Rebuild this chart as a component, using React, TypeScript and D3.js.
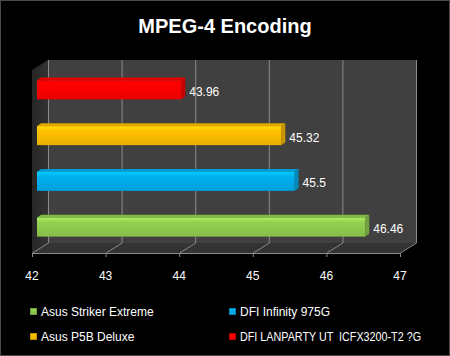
import React from "react";
import * as d3 from "d3";

const categories = ["DFI LANPARTY UT  ICFX3200-T2 ?G", "Asus P5B Deluxe", "DFI Infinity 975G", "Asus Striker Extreme"];
const values = [43.96, 45.32, 45.5, 46.46];
const colors = ["#ff0000", "#ffc000", "#00b0f0", "#92d050"];
const xTicks = [42, 43, 44, 45, 46, 47];
const legendOrder = [3, 2, 1, 0];

const W = 450, H = 356;
const FONT = "'Liberation Sans', Arial, sans-serif";

export default function App() {
  const x = d3.scaleLinear().domain([42, 47]).range([32, 400]);
  const y = d3.scaleBand().domain(categories).range([70, 253]);
  const DX = 16, DY = -10; // wall depth
  const bOff = 5, bOffY = -3; // bar plane offset
  const bdx = 4, bdy = -3; // bar depth
  const barH = 19;
  const front = 253, backY = 243, topFront = 70;
  const pts = (a: number[][]) => a.map(p => p.join(",")).join(" ");

  return (
    <svg width={W} height={H} style={{ position: "fixed", left: 0, top: 0, background: "#000" }}>
      <defs>
        {colors.map((c, i) => {
          const col = d3.color(c)!;
          return (
            <linearGradient key={i} id={"g" + i} x1="0" y1="0" x2="0" y2="1">
              <stop offset="0" stopColor={col.brighter(0.4).formatHex()} />
              <stop offset="0.25" stopColor={c} />
              <stop offset="1" stopColor={col.darker(0.25).formatHex()} />
            </linearGradient>
          );
        })}
        <linearGradient id="lw" x1="0" y1="0" x2="1" y2="0">
          <stop offset="0" stopColor="#262626" />
          <stop offset="1" stopColor="#333333" />
        </linearGradient>
      </defs>
      <rect x={0} y={0} width={W} height={H} fill="#000" />
      <rect x={0.5} y={0.5} width={W - 1} height={H - 1} fill="none" stroke="#4a4a4a" />
      <text x={225} y={33} textAnchor="middle" fill="#fff" fontFamily={FONT} fontWeight="bold" fontSize={20}>MPEG-4 Encoding</text>

      {/* back wall */}
      <rect x={x(42) + DX} y={topFront + DY} width={x(47) - x(42)} height={backY - (topFront + DY)} fill="#404040" />
      {/* floor */}
      <polygon points={pts([[x(42), front], [x(42) + DX, backY], [x(47) + DX, backY], [x(47), front]])} fill="#333333" />
      {/* left wall */}
      <polygon points={pts([[x(42), topFront], [x(42) + DX, topFront + DY], [x(42) + DX, backY], [x(42), front]])} fill="url(#lw)" />
      {/* grid */}
      {xTicks.map(t => (
        <g key={t} stroke="#8a8a8a" strokeWidth={1}>
          <line x1={x(t) + DX + 0.5} x2={x(t) + DX + 0.5} y1={topFront + DY} y2={backY} />
          <line x1={x(t) + 0.5} y1={front} x2={x(t) + DX + 0.5} y2={backY} />
          <line x1={x(t) + 0.5} x2={x(t) + 0.5} y1={front} y2={front + 4} />
        </g>
      ))}
      <line x1={x(42)} x2={x(47) + 1} y1={front + 0.5} y2={front + 0.5} stroke="#8a8a8a" />

      {/* bars */}
      {categories.map((c, i) => {
        const cy = (y(c) as number) + y.bandwidth() / 2 + bOffY;
        const t = cy - barH / 2, b = cy + barH / 2;
        const x0 = x(42) + bOff, x1 = x(values[i]) + bOff;
        const col = d3.color(colors[i])!;
        return (
          <g key={c}>
            <polygon points={pts([[x0, t], [x0 + bdx, t + bdy], [x1 + bdx, t + bdy], [x1, t]])} fill={col.darker(0.35).formatHex()} />
            <polygon points={pts([[x1, t], [x1 + bdx, t + bdy], [x1 + bdx, b + bdy], [x1, b]])} fill={col.darker(0.7).formatHex()} />
            <rect x={x0} y={t} width={x1 - x0} height={barH} fill={`url(#g${i})`} />
            <text x={x1 + 8} y={cy + 2} dominantBaseline="central" fill="#fff" fontFamily={FONT} fontSize={12}>{values[i]}</text>
          </g>
        );
      })}

      {/* x tick labels */}
      {xTicks.map(t => (
        <text key={t} x={x(t)} y={276} textAnchor="middle" dominantBaseline="central" fill="#fff" fontFamily={FONT} fontSize={12}>{t}</text>
      ))}

      {/* legend */}
      {legendOrder.map((idx, k) => {
        const lx = k % 2 === 0 ? 30 : 229;
        const ly = k < 2 ? 312 : 337;
        const long = categories[idx].length > 25;
        return (
          <g key={idx}>
            <rect x={lx + 0.5} y={ly - 3.5} width={6} height={6} fill={`url(#g${idx})`} stroke={d3.color(colors[idx])!.darker(0.8).formatHex()} />
            <text x={lx + 11} y={ly} dominantBaseline="central" fill="#fff" fontFamily={FONT} fontSize={12}
              style={{ whiteSpace: "pre" }} {...(long ? { textLength: 181, lengthAdjust: "spacingAndGlyphs" } : {})}>{categories[idx]}</text>
          </g>
        );
      })}
    </svg>
  );
}
